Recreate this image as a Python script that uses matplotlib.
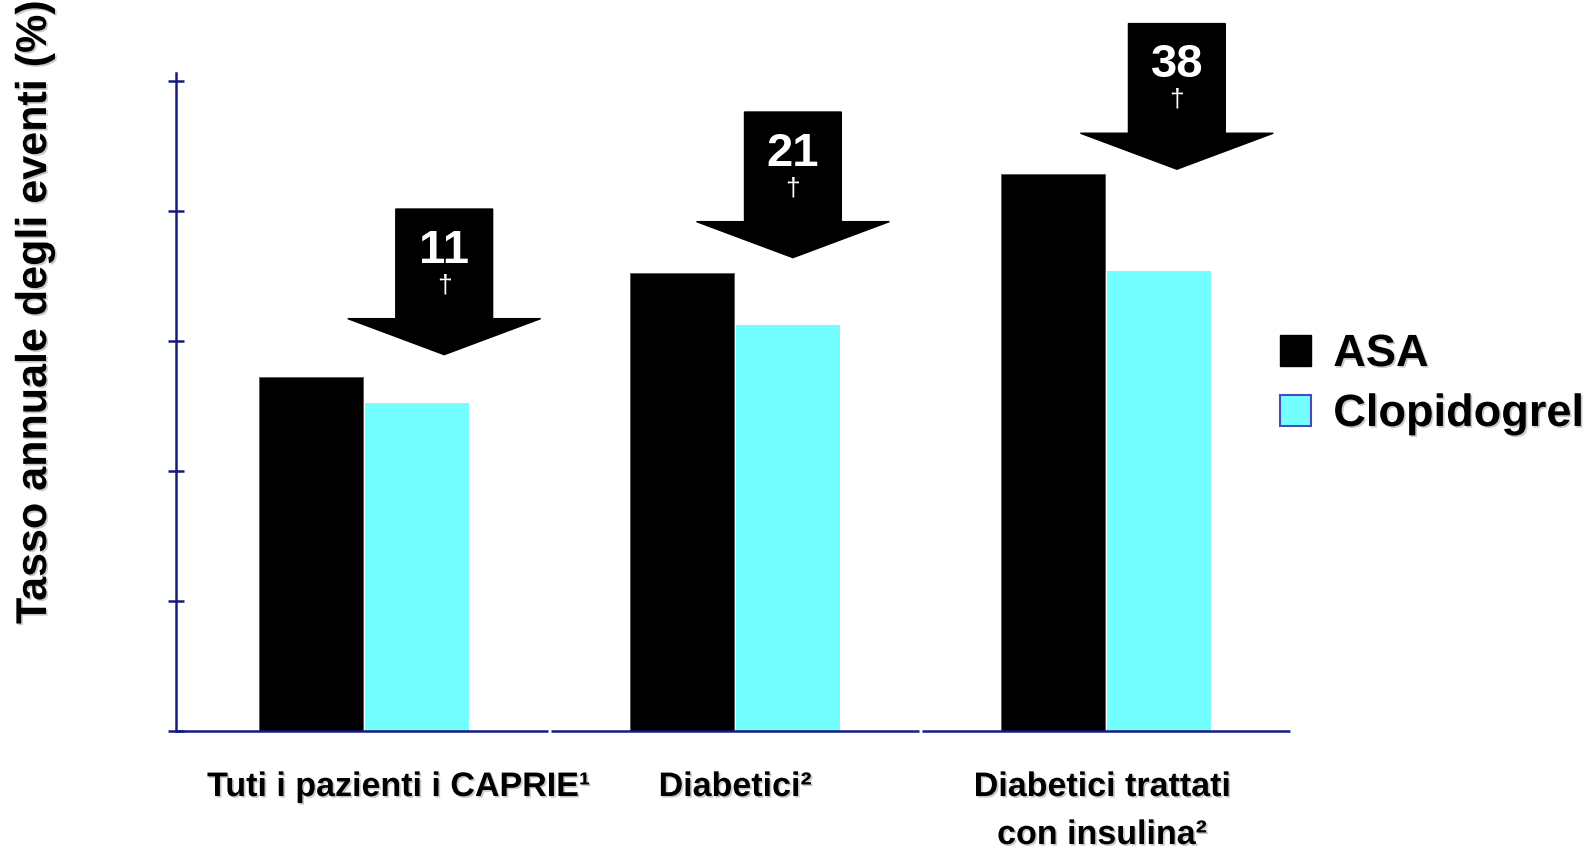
import matplotlib
matplotlib.use("Agg")
import matplotlib.pyplot as plt
import matplotlib.patches as mpatches
import matplotlib.patheffects as pe
import matplotlib.transforms as mtransforms
import numpy as np

# ---- data ----
categories = ["Tuti i pazienti i CAPRIE\u00b9", "Diabetici\u00b2", "Diabetici trattati\ncon insulina\u00b2"]
asa = [13.6, 17.6, 21.4]
clopidogrel = [12.6, 15.6, 17.7]
reductions = ["11", "21", "38"]
series_names = ["ASA", "Clopidogrel"]
y_ticks = [0, 5, 10, 15, 20, 25]
ylabel = "Tasso annuale degli eventi (%)"

# ---- style ----
navy = "#141c80"
cyan = "#73ffff"
plt.rcParams['font.family'] = ['Liberation Sans', 'DejaVu Sans']

fig = plt.figure(figsize=(15.96, 8.51), dpi=100)
ax = fig.add_axes([176/1596, 1-731/851, (1290-176)/1596, (731-73)/851])

x = np.arange(len(categories))
w = 0.28
off = 0.143
ax.bar(x - off, asa, width=w, color="black", edgecolor="#555555", linewidth=0.6, zorder=2)
ax.bar(x + off, clopidogrel, width=w, color=cyan, edgecolor="none", zorder=2)

ax.set_xlim(-0.507, 2.496)
ax.set_ylim(0, 25.3)

# axes styling
for s in ["top", "right", "bottom"]:
    ax.spines[s].set_visible(False)
ax.spines["left"].set_color(navy)
ax.spines["left"].set_linewidth(1.8)
ax.set_yticks(y_ticks)
ax.set_yticklabels([])
ax.tick_params(axis="y", direction="inout", length=12, width=1.8, color=navy)
ax.set_xticks([])

# segmented x axis with small gaps at category boundaries
bounds = [-0.507, 0.497, 0.503, 1.497, 1.503, 2.496]
for a, b in zip(bounds[0::2], bounds[1::2]):
    ax.plot([a, b], [0, 0], color=navy, lw=1.8, solid_capstyle="butt", clip_on=False, zorder=3)

shadow = [pe.SimplePatchShadow(offset=(1.2, -1.2), shadow_rgbFace="#888888", alpha=0.45), pe.Normal()]

# category labels
trans = mtransforms.blended_transform_factory(ax.transData, fig.transFigure)
label_dx = [0.092, 0.0, -0.011]
line_base = [796, 844]
for i, cat in enumerate(categories):
    lines = cat.split("\n")
    for j, line in enumerate(lines):
        ax.text(i + label_dx[i], 1 - line_base[j] / 851, line, transform=trans,
                ha="center", va="baseline", fontsize=24.5, fontweight="bold",
                path_effects=shadow, clip_on=False)

# y label
fig.text(35/1596, 1 - 313/851, ylabel, rotation=90, ha="center", va="center",
         fontsize=31, fontweight="bold", path_effects=shadow)

# block arrows with reduction percentages
arrow_dx = [0.216, 0.156, 0.191]
arrow_gap = [0.87, 0.6, 0.2]
arrow_len = 5.6
for i, r in enumerate(reductions):
    tip_x = i + arrow_dx[i]
    tip_y = asa[i] + arrow_gap[i]
    top_y = tip_y + arrow_len
    arr = mpatches.FancyArrow(tip_x, top_y, 0, -arrow_len, width=0.261, head_width=0.52,
                              head_length=1.385, length_includes_head=True,
                              color="black", clip_on=False, zorder=4)
    ax.add_patch(arr)
    ax.annotate(r, xy=(tip_x, top_y), xytext=(0, -30), textcoords="offset points",
                ha="center", va="center", color="white", fontsize=34, fontweight="bold",
                zorder=5, annotation_clip=False)
    ax.annotate("\u2020", xy=(tip_x, top_y), xytext=(0, -55), textcoords="offset points",
                ha="center", va="center", color="white", fontsize=19, zorder=5, annotation_clip=False)

# legend
handles = [mpatches.Patch(facecolor="black", edgecolor="black", label=series_names[0]),
           mpatches.Patch(facecolor=cyan, edgecolor="#4a4ab8", linewidth=1.5, label=series_names[1])]
leg = ax.legend(handles=handles, loc="upper left", bbox_to_anchor=(1280/1596, 1 - 334/851),
                bbox_transform=fig.transFigure, frameon=False,
                prop={"weight": "bold", "size": 32.5}, handlelength=0.68, handleheight=0.68,
                handletextpad=0.5, labelspacing=0.42, borderpad=0, borderaxespad=0)
for t in leg.get_texts():
    t.set_path_effects(shadow)

fig.savefig("out.png", dpi=100)
